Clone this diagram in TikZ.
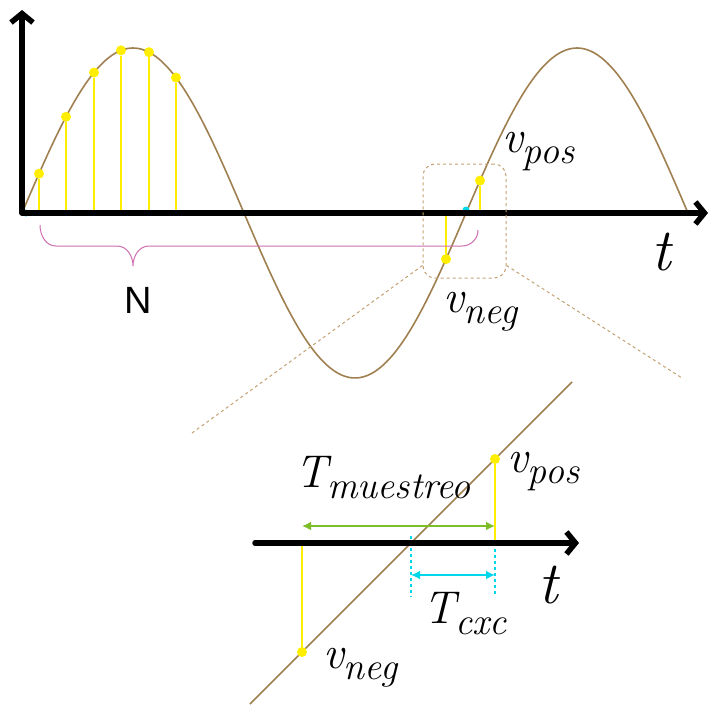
\documentclass[tikz,border=0pt]{standalone}
\usepackage{fontspec}
\newfontfamily\labelsans{Liberation Sans}
\usetikzlibrary{arrows.meta,positioning}
% Groesse mit tiefgestelltem Index
\newcommand\sublab[2]{{\fontsize{46}{50}\selectfont\itshape #1}%
	\raisebox{-11pt}{\fontsize{38}{42}\selectfont\itshape #2}}

\begin{document}
\begin{tikzpicture}[x=1pt,y=-1pt,
	axisline/.style={line width=5.5pt, line cap=round, line join=round,
		{Straight Barb[length=9pt,width=22pt]}-{Straight Barb[length=9pt,width=22pt]}},
	wave/.style={draw=wavec, line width=1.6pt},
	sample/.style={draw=sampc, line width=2pt},
	dot/.style={circle, fill=sampc, inner sep=0pt, minimum size=10pt},
	mlabel/.style={anchor=base west, inner sep=0pt},
	tlabel/.style={anchor=base, inner sep=0pt, font=\fontsize{60}{64}\selectfont\itshape},
	zoomline/.style={draw=zoomc, dashed, line width=1pt}]
	% Abmessungen (in px)
	\def\Ax{22}   % Ursprung x
	\def\Ay{213}  % Ursprung y
	\def\A{165}   % Amplitude
	\def\P{222}   % halbe Periode

	% Farben
	\definecolor{wavec}{RGB}{160, 128, 80}    % Sinus
	\definecolor{sampc}{RGB}{255, 238, 0}     % Abtastwerte
	\definecolor{bracec}{RGB}{205, 110, 175}  % Klammer N
	\definecolor{zoomc}{RGB}{195, 160, 115}   % Lupe
	\definecolor{greenc}{RGB}{125, 190, 40}   % T muestreo
	\definecolor{cyanc}{RGB}{0, 215, 235}     % T cxc

	\useasboundingbox (0,0) rectangle (712,706);

	% Sinus oben
	\draw[wave] plot[domain=\Ax:688, samples=200, smooth]
		(\x, {\Ay-\A*sin((\x-\Ax)/\P*180)});

	% Nulldurchgaenge
	\fill[cyanc] (26,\Ay) circle (3.5);
	\fill[cyanc] (466,210) circle (3.5);

	% Abtastwerte
	\foreach \xs [count=\k] in {39,66,94,121,149,176}{
		\node[dot] (s\k) at ({\xs},{\Ay-\A*sin((\xs-\Ax)/\P*180)}) {};
		\coordinate (f\k) at (\xs,\Ay);
		\draw[sample] (f\k) -- (s\k);
	}

	% v_neg / v_pos oben
	\node[dot] (pn) at (446,{\Ay-\A*sin((446-\Ax)/\P*180)}) {};
	\node[dot] (pp) at (480,{\Ay-\A*sin((480-\Ax)/\P*180)}) {};
	\coordinate (pnf) at (446,\Ay);
	\coordinate (ppf) at (480,\Ay);
	\draw[sample] (pnf) -- (pn);
	\draw[sample] (ppf) -- (pp);

	% Achsen oben
	\coordinate (yend) at (\Ax,10);
	\coordinate (o) at (\Ax,\Ay);
	\coordinate (xend) at (708,\Ay);
	\draw[axisline] (yend) -- (o) -- (xend);

	% Klammer N
	\coordinate (tip) at (133,266);
	\draw[bracec, line width=1pt] (40,225) to[out=-90,in=180] (56,246) -- (117,246)
		to[out=0,in=90] (tip) to[out=90,in=180] (149,246) -- (462,246)
		to[out=0,in=-90] (478,230);
	\node[inner sep=0pt, anchor=base] (nlab) at (138,313)
		{\labelsans\fontsize{38}{42}\selectfont N};

	% Beschriftungen oben
	\node[mlabel] (vpos) at (502,153) {\sublab{v}{pos}};
	\node[mlabel] (vneg) at (443,312) {\sublab{v}{neg}};
	\node[tlabel] (t1) at (661,270) {t};

	% Lupe
	\node[draw=zoomc, dashed, line width=1pt, rounded corners=12pt,
		minimum width=83pt, minimum height=114pt] (zoom) at (464.5,221) {};
	\coordinate (zl) at ([yshift=13pt]zoom.south west);
	\coordinate (zr) at ([yshift=13pt]zoom.south east);
	\coordinate (zl2) at (192,433);
	\coordinate (zr2) at (682,378);
	\draw[zoomline] (zl) -- (zl2);
	\draw[zoomline] (zr) -- (zr2);

	% Ausschnitt unten
	\coordinate (la) at (250,704);
	\coordinate (lb) at (572,382);
	\draw[wave] (la) -- (lb);

	\node[dot] (vn) at (302,652) {};
	\node[dot] (vp) at (495,459) {};
	\coordinate (vnf) at (302,543);
	\coordinate (vpf) at (495,543);
	\coordinate (c0) at (411,543);
	\draw[sample] (vnf) -- (vn);
	\draw[sample] (vpf) -- (vp);

	% T cxc
	\draw[cyanc, dashed, line width=1.5pt] ([yshift=7pt]c0) -- ([yshift=-54pt]c0);
	\draw[cyanc, dashed, line width=1.5pt] (vpf) -- ([yshift=-54pt]vpf);
	\draw[cyanc, line width=2pt, {Latex[length=9pt,width=9pt]}-{Latex[length=9pt,width=9pt]}]
		([yshift=-32pt]c0) -- ([yshift=-32pt]vpf);

	% T muestreo
	\draw[greenc, line width=2pt, {Latex[length=9pt,width=9pt]}-{Latex[length=9pt,width=9pt]}]
		([yshift=17pt]vnf) -- ([yshift=17pt]vpf);

	% Achse unten
	\coordinate (ba) at (255,543);
	\coordinate (be) at (579,543);
	\draw[line width=5.5pt, line cap=round, -{Straight Barb[length=9pt,width=22pt]}] (ba) -- (be);

	% Beschriftungen unten
	\node[mlabel] (vpos2) at (507,472) {\sublab{v}{pos}};
	\node[mlabel] (vneg2) at (323,668) {\sublab{v}{neg}};
	\node[mlabel] (tmu) at (295,487) {\sublab{T}{muestreo}};
	\node[mlabel] (tcx) at (423,623) {\sublab{T}{cxc}};
	\node[tlabel] (t2) at (548,603) {t};
\end{tikzpicture}
\end{document}
